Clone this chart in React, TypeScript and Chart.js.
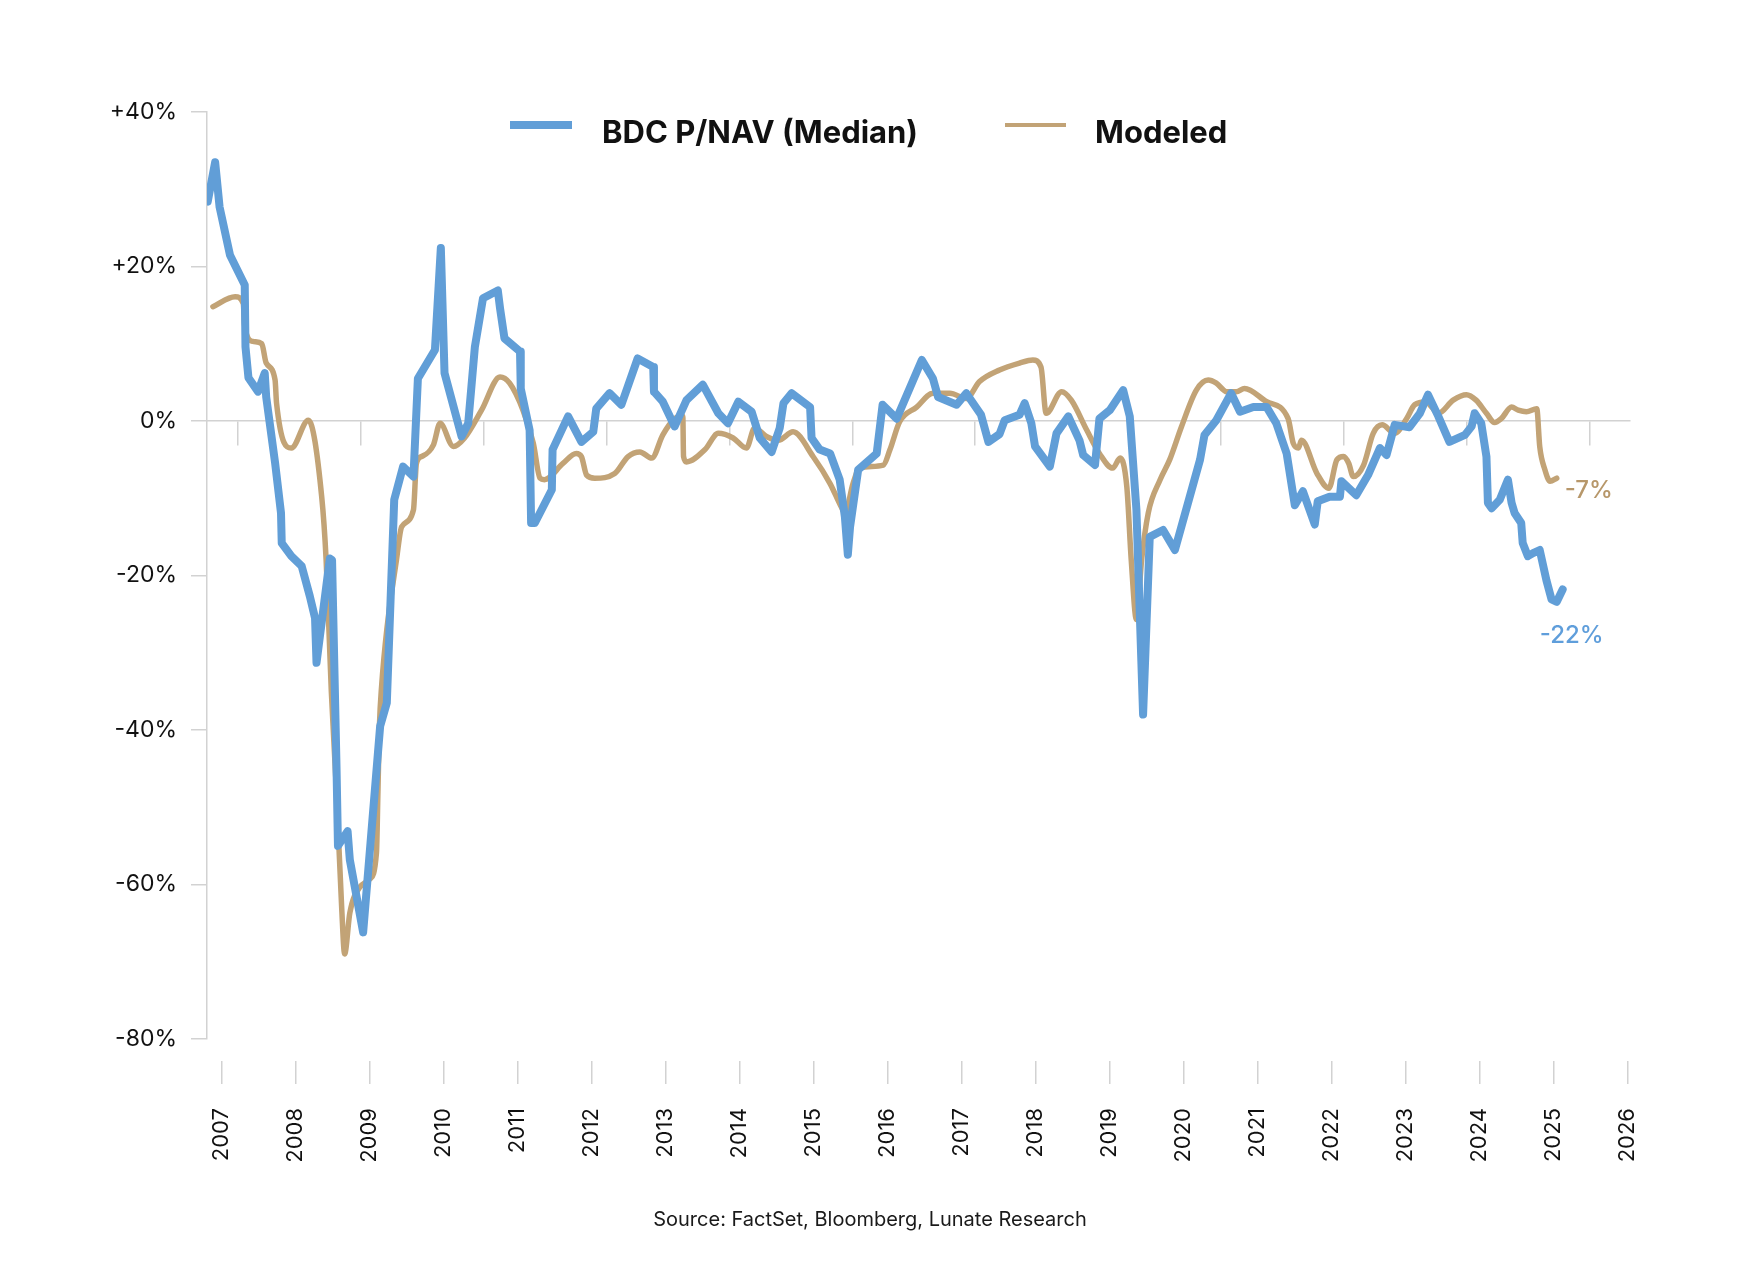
import React, { useEffect, useRef } from "react";
import { Chart, registerables } from "chart.js";

Chart.register(...registerables);
Chart.defaults.font.family = "Inter";

// dates are decimal years, values are premium / discount to NAV in %
const bdcYears = [
  2006.81, 2006.91, 2006.97, 2007.11, 2007.31, 2007.32, 2007.36, 2007.49, 2007.58, 2007.6,
  2007.72, 2007.8, 2007.81, 2007.94, 2008.08, 2008.19, 2008.26, 2008.28, 2008.46, 2008.49,
  2008.55, 2008.57, 2008.7, 2008.73, 2008.91, 2009.14, 2009.23, 2009.33, 2009.45, 2009.59,
  2009.65, 2009.88, 2009.96, 2010.01, 2010.24, 2010.33, 2010.42, 2010.53, 2010.73, 2010.76,
  2010.82, 2011.03, 2011.04, 2011.16, 2011.18, 2011.23, 2011.46, 2011.47, 2011.68, 2011.86,
  2012.02, 2012.06, 2012.24, 2012.4, 2012.62, 2012.83, 2012.84, 2012.96, 2013.12, 2013.28,
  2013.5, 2013.71, 2013.84, 2013.98, 2014.16, 2014.27, 2014.43, 2014.54, 2014.59, 2014.7,
  2014.95, 2014.97, 2015.08, 2015.22, 2015.35, 2015.42, 2015.46, 2015.49, 2015.6, 2015.85,
  2015.93, 2016.12, 2016.46, 2016.61, 2016.68, 2016.93, 2017.06, 2017.26, 2017.36, 2017.51,
  2017.58, 2017.78, 2017.85, 2017.94, 2017.99, 2018.19, 2018.28, 2018.44, 2018.59, 2018.64,
  2018.8, 2018.86, 2019.0, 2019.18, 2019.27, 2019.36, 2019.45, 2019.54, 2019.72, 2019.88,
  2020.22, 2020.28, 2020.44, 2020.64, 2020.76, 2020.94, 2021.12, 2021.25, 2021.39, 2021.5,
  2021.61, 2021.77, 2021.81, 2021.97, 2022.11, 2022.13, 2022.33, 2022.49, 2022.65, 2022.74,
  2022.85, 2023.05, 2023.19, 2023.3, 2023.44, 2023.59, 2023.8, 2023.89, 2023.93, 2024.02,
  2024.09, 2024.11, 2024.16, 2024.27, 2024.38, 2024.43, 2024.47, 2024.56, 2024.58, 2024.65,
  2024.72, 2024.81, 2024.9, 2024.97, 2025.04, 2025.12,
];
const bdcValues = [
  28.4, 33.5, 27.7, 21.5, 17.6, 9.6, 5.6, 3.8, 6.2, 3.1,
  -5.4, -11.9, -15.8, -17.5, -18.8, -22.7, -25.5, -31.3, -17.8, -18.0,
  -44.7, -55.0, -53.1, -56.8, -66.2, -39.5, -36.5, -10.2, -5.9, -7.2,
  5.5, 9.2, 22.4, 6.2, -2.0, -0.3, 9.6, 15.9, 16.9, 14.6,
  10.7, 9.0, 4.2, -1.2, -13.2, -13.2, -8.9, -3.7, 0.6, -2.7,
  -1.4, 1.6, 3.6, 2.1, 8.1, 7.0, 3.8, 2.5, -0.7, 2.7,
  4.7, 1.0, -0.3, 2.5, 1.2, -2.2, -4.0, -0.9, 2.3, 3.6,
  1.8, -2.2, -3.7, -4.2, -7.6, -12.4, -17.3, -13.7, -6.3, -4.2,
  2.1, 0.3, 7.9, 5.5, 3.1, 2.1, 3.6, 0.8, -2.7, -1.7,
  0.1, 0.8, 2.3, -0.3, -3.3, -5.9, -1.6, 0.6, -2.5, -4.4,
  -5.7, 0.3, 1.4, 4.0, 0.6, -11.5, -38.0, -15.0, -14.1, -16.7,
  -5.0, -1.8, 0.1, 3.6, 1.2, 1.8, 1.8, -0.3, -4.2, -10.9,
  -9.1, -13.4, -10.4, -9.8, -9.8, -7.8, -9.6, -7.0, -3.5, -4.4,
  -0.5, -0.8, 1.0, 3.4, 0.6, -2.7, -1.8, -0.7, 1.0, -0.3,
  -4.6, -10.6, -11.3, -10.2, -7.6, -10.6, -11.9, -13.2, -15.8, -17.5,
  -17.1, -16.7, -20.6, -23.1, -23.4, -21.8,
];

const modelYears = [
  2006.88, 2007.18, 2007.29, 2007.31, 2007.42, 2007.54, 2007.6, 2007.72, 2007.74, 2007.94,
  2008.17, 2008.35, 2008.41, 2008.48, 2008.55, 2008.62, 2008.66, 2008.73, 2008.86, 2009.0,
  2009.09, 2009.11, 2009.13, 2009.16, 2009.23, 2009.36, 2009.43, 2009.59, 2009.63, 2009.7,
  2009.86, 2009.95, 2010.13, 2010.28, 2010.51, 2010.76, 2010.89, 2011.07, 2011.21, 2011.3,
  2011.36, 2011.61, 2011.79, 2011.86, 2011.93, 2012.04, 2012.31, 2012.49, 2012.65, 2012.81,
  2012.96, 2013.12, 2013.23, 2013.24, 2013.28, 2013.53, 2013.71, 2013.91, 2014.09, 2014.2,
  2014.36, 2014.52, 2014.72, 2014.99, 2015.22, 2015.37, 2015.42, 2015.53, 2015.62, 2015.94,
  2016.03, 2016.16, 2016.39, 2016.61, 2016.84, 2017.06, 2017.24, 2017.51, 2017.78, 2017.96,
  2018.07, 2018.14, 2018.35, 2018.48, 2018.69, 2018.86, 2019.04, 2019.14, 2019.23, 2019.29,
  2019.36, 2019.43, 2019.52, 2019.68, 2019.81, 2019.97, 2020.17, 2020.33, 2020.44, 2020.58,
  2020.71, 2020.82, 2021.12, 2021.41, 2021.48, 2021.55, 2021.59, 2021.8, 2021.96, 2022.07,
  2022.16, 2022.23, 2022.29, 2022.43, 2022.56, 2022.68, 2022.85, 2023.01, 2023.12, 2023.28,
  2023.35, 2023.44, 2023.64, 2023.82, 2023.95, 2024.09, 2024.2, 2024.29, 2024.43, 2024.52,
  2024.63, 2024.77, 2024.81, 2024.88, 2024.95, 2025.04,
];
const modelValues = [
  14.8, 16.1, 15.2, 12.2, 10.3, 10.0, 7.5, 5.3, 2.3, -3.5,
  0.1, -9.8, -18.0, -35.0, -48.0, -63.0, -69.0, -63.7, -60.4, -59.3,
  -55.9, -48.0, -39.5, -34.3, -27.0, -18.0, -13.7, -11.5, -5.5, -4.6,
  -3.1, -0.3, -3.3, -2.2, 1.4, 5.7, 4.9, 1.4, -2.9, -7.4,
  -7.6, -5.5, -4.2, -4.6, -7.0, -7.4, -6.8, -4.6, -4.0, -4.8,
  -1.8, 0.3, 0.6, -4.6, -5.3, -3.7, -1.6, -2.2, -3.5, -0.9,
  -2.0, -2.5, -1.4, -4.6, -8.1, -11.1, -11.9, -8.1, -6.1, -5.7,
  -3.7, -0.1, 1.8, 3.6, 3.6, 2.9, 5.1, 6.6, 7.5, 7.9,
  7.0, 1.0, 3.8, 2.7, -1.2, -4.2, -6.1, -4.8, -8.5, -18.0,
  -25.7, -18.0, -11.9, -7.6, -5.0, -0.7, 4.0, 5.3, 4.9, 3.8,
  3.8, 4.2, 2.5, 0.3, -2.9, -3.5, -2.5, -6.8, -8.7, -5.0,
  -4.6, -5.5, -7.2, -5.7, -1.6, -0.5, -1.6, 0.3, 2.1, 2.5,
  1.8, 1.0, 2.7, 3.4, 2.7, 1.0, -0.2, 0.3, 1.8, 1.4,
  1.2, 1.6, -3.3, -6.3, -7.8, -7.4,
];

const yearTicks = [
  2007, 2008, 2009, 2010, 2011, 2012, 2013, 2014, 2015, 2016,
  2017, 2018, 2019, 2020, 2021, 2022, 2023, 2024, 2025, 2026,
];
// tick marks hanging from the 0% line (every 20 months)
const zeroLineTicks = [
  2007.22, 2008.88, 2010.54, 2012.2, 2013.86, 2015.52,
  2017.18, 2018.84, 2020.5, 2022.16, 2023.82, 2025.48,
];

const BLUE = "#619ed7";
const TAN = "#c2a376";
const GRID = "#d2d2d2";
const X_MIN = 2006.8;
const X_MAX = 2026.03;

const pct = (v: number) => (v > 0 ? "+" + v : String(v)) + "%";

// "-22%" / "-7%" at the end of each line
const endLabels = {
  id: "endLabels",
  afterDatasetsDraw(chart: any) {
    const ctx = chart.ctx;
    chart.data.datasets.forEach((ds: any, i: number) => {
      const pts = chart.getDatasetMeta(i).data;
      const last = pts[pts.length - 1];
      const v = ds.data[ds.data.length - 1].y;
      ctx.save();
      ctx.font = "500 24px Inter";
      ctx.fillStyle = ds.endColor;
      ctx.textAlign = ds.endAlign;
      ctx.textBaseline = "middle";
      ctx.fillText(Math.round(v) + "%", last.x + ds.endDx, last.y + ds.endDy);
      ctx.restore();
    });
  },
};

const legendText: React.CSSProperties = {
  fontFamily: "Inter",
  fontWeight: 700,
  fontSize: 31,
  lineHeight: "31px",
  color: "#111",
  whiteSpace: "nowrap",
};

export default function App() {
  const chartRef = useRef<HTMLCanvasElement>(null);

  useEffect(() => {
    document.body.style.margin = "0";
    if (!chartRef.current) return;

    const chart = new Chart(chartRef.current, {
      type: "line",
      data: {
        datasets: [
          {
            label: "BDC P/NAV (Median)",
            data: bdcYears.map((x, i) => ({ x, y: bdcValues[i] })),
            borderColor: BLUE,
            borderWidth: 8,
            borderJoinStyle: "round",
            borderCapStyle: "round",
            pointRadius: 0,
            tension: 0,
            xAxisID: "x",
            yAxisID: "y",
            endColor: "#5f9edb",
            endAlign: "center",
            endDx: 9,
            endDy: 46,
          } as any,
          {
            label: "Modeled",
            data: modelYears.map((x, i) => ({ x, y: modelValues[i] })),
            borderColor: TAN,
            borderWidth: 5.5,
            borderJoinStyle: "round",
            borderCapStyle: "round",
            pointRadius: 0,
            cubicInterpolationMode: "monotone",
            xAxisID: "x",
            yAxisID: "y",
            endColor: "#b7976a",
            endAlign: "left",
            endDx: 8,
            endDy: 13,
          } as any,
        ],
      },
      options: {
        responsive: false,
        animation: false,
        layout: { padding: { top: 112, right: 110, bottom: 103, left: 0 } },
        plugins: {
          legend: { display: false },
          tooltip: { enabled: false },
        },
        scales: {
          x: {
            type: "linear",
            position: "bottom",
            min: X_MIN,
            max: X_MAX,
            afterBuildTicks: (s: any) => {
              s.ticks = yearTicks.map((value) => ({ value }));
            },
            afterFit: (s: any) => {
              s.height = 130;
            },
            border: { display: false },
            grid: {
              drawOnChartArea: false,
              tickLength: 45,
              color: GRID,
              lineWidth: 1.5,
              tickBorderDash: [0, 22, 23, 1000],
            },
            ticks: {
              autoSkip: false,
              minRotation: 90,
              maxRotation: 90,
              padding: 24,
              color: "#111",
              font: { size: 22 },
              callback: (v: any) => String(v),
            },
          },
          x2: {
            type: "linear",
            axis: "x",
            position: { y: 0 },
            min: X_MIN,
            max: X_MAX,
            afterBuildTicks: (s: any) => {
              s.ticks = zeroLineTicks.map((value) => ({ value }));
            },
            border: { display: true, color: GRID, width: 1.5 },
            grid: { drawOnChartArea: false, tickLength: 24, color: GRID, lineWidth: 1.5 },
            ticks: { display: false },
          },
          y: {
            min: -80,
            max: 40,
            afterFit: (s: any) => {
              s.width = 207;
            },
            border: { color: GRID, width: 1.5 },
            grid: { drawOnChartArea: false, tickLength: 16, color: GRID, lineWidth: 1.5 },
            ticks: {
              stepSize: 20,
              padding: 14,
              color: "#111",
              font: { size: 23 },
              callback: (v: any) => pct(v),
            },
          },
        } as any,
      },
      plugins: [endLabels],
    });

    return () => {
      chart.destroy();
    };
  }, []);

  return (
    <div style={{ position: "relative", width: 1740, height: 1272 }}>
      <canvas ref={chartRef} width={1740} height={1272} style={{ display: "block" }} />
      <div style={{ position: "absolute", left: 510, top: 116, display: "flex", alignItems: "flex-start" }}>
        <span style={{ width: 62, height: 8, background: BLUE, marginTop: 4.6, marginRight: 30 }} />
        <span style={legendText}>BDC P/NAV (Median)</span>
      </div>
      <div style={{ position: "absolute", left: 1005, top: 116, display: "flex", alignItems: "flex-start" }}>
        <span style={{ width: 61, height: 4, background: TAN, marginTop: 6.5, marginRight: 29 }} />
        <span style={legendText}>Modeled</span>
      </div>
      <div
        style={{
          position: "absolute",
          left: 0,
          top: 1207,
          width: 1740,
          textAlign: "center",
          fontFamily: "Inter",
          fontSize: 20,
          lineHeight: "24px",
          color: "#1a1a1a",
        }}
      >
        Source: FactSet, Bloomberg, Lunate Research
      </div>
    </div>
  );
}
